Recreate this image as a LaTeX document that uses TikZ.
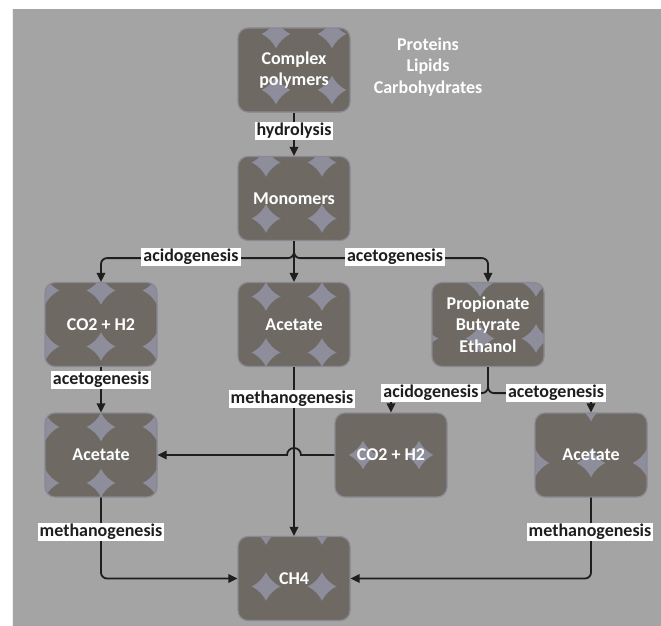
\documentclass[tikz,border=0pt]{standalone}
\usepackage{fontspec}
\setmainfont{Carlito}
\usetikzlibrary{arrows.meta,calc}

\definecolor{canvasgray}{HTML}{A4A4A4}
\definecolor{starfill}{HTML}{8E8D9B}
\definecolor{discfill}{HTML}{6E6A63}
\definecolor{rimcol}{HTML}{8A8894}
\definecolor{ink}{HTML}{1E1E1E}

% phase of the disc lattice inside a stage box
\newcommand\discx{0}
\newcommand\discy{0}

\tikzset{
  phase/.code 2 args={\def\discx{#1}\def\discy{#2}},
  stage/.style={rounded corners=10pt, minimum width=112pt, minimum height=84pt,
    inner sep=0pt, fill=starfill, draw=rimcol, line width=1.2pt,
    text=white, font=\fontsize{18}{21.5}\selectfont\bfseries, align=center,
    path picture={
      \foreach \i in {-2,...,2}{\foreach \j in {-2,...,2}{
        \fill[discfill] ([shift={(\i*56+\discx,\j*56+\discy)}]path picture bounding box.center)
          circle[radius=31pt];
      }}
    }},
  tag/.style={fill=white, text=ink, inner xsep=2pt, inner ysep=1pt,
    font=\fontsize{18}{20}\selectfont\bfseries},
  note/.style={text=white, align=center, font=\fontsize{18}{21.5}\selectfont\bfseries},
  flow/.style={draw=ink, line width=1.8pt, rounded corners=6pt,
    -{Triangle[length=9pt,width=8.5pt]}},
}

\begin{document}
\begin{tikzpicture}[x=1pt,y=-1pt]
  \useasboundingbox (0,0) rectangle (661,626);
  \fill[white] (0,0) rectangle (661,626);
  \fill[canvasgray] (12,9) rectangle (661,626);
  \draw[white!80!canvasgray, line width=1pt] (12.5,9) -- (12.5,626);

  % stages
  \node[stage, phase={10}{-8}]  (cp)   at (294,70)    {Complex\\polymers};
  \node[stage, phase={0}{-8}]   (mono) at (294,198.5) {Monomers};
  \node[stage, phase={28}{-6}]  (co2a) at (101,324.5) {CO2 + H2};
  \node[stage, phase={0}{0}]    (aceb) at (294,324.5) {Acetate};
  \node[stage, phase={20}{-14}] (prop) at (488,324.5) {Propionate\\Butyrate\\Ethanol};
  \node[stage, phase={28}{0}]   (acea) at (101,455)   {Acetate};
  \node[stage, phase={0}{-28}]  (co2b) at (391,455)   {CO2 + H2};
  \node[stage, phase={28}{-20}] (acec) at (591,455)   {Acetate};
  \node[stage, phase={0}{-20}]  (ch4)  at (294,578.5) {CH4};

  \node[note] (src) at (428,67) {Proteins\\Lipids\\Carbohydrates};

  % connectors
  \draw[flow] (cp) -- (mono);
  \draw[flow] (mono.south) -- ++(0,17) -| (co2a.north);
  \draw[flow] (mono.south) -- ++(0,17) -| (prop.north);
  \draw[flow] (mono) -- (aceb);
  \draw[flow] (co2a) -- (acea);
  \draw[flow] (aceb) -- (ch4);
  \draw[flow] (prop.south) -- ++(0,26) -| (co2b.north);
  \draw[flow] (prop.south) -- ++(0,26) -| (acec.north);
  \coordinate (hop) at (aceb.south |- co2b.west);
  \draw[flow, rounded corners=0pt] (co2b.west) -- ([xshift=7pt]hop)
    arc[start angle=0, end angle=180, radius=7pt] -- (acea.east);
  \draw[flow] (acea.south) |- (ch4.west);
  \draw[flow] (acec.south) |- (ch4.east);

  % process labels
  \node[tag] (t1) at (294,131) {hydrolysis};
  \node[tag] (t2) at (191,257) {acidogenesis};
  \node[tag] (t3) at (395,257) {acetogenesis};
  \node[tag] (t4) at (101,380) {acetogenesis};
  \node[tag] (t5) at (292,399) {methanogenesis};
  \node[tag] (t6) at (431,393) {acidogenesis};
  \node[tag] (t7) at (556,393) {acetogenesis};
  \node[tag] (t8) at (101,532) {methanogenesis};
  \node[tag] (t9) at (590,532) {methanogenesis};
\end{tikzpicture}
\end{document}
